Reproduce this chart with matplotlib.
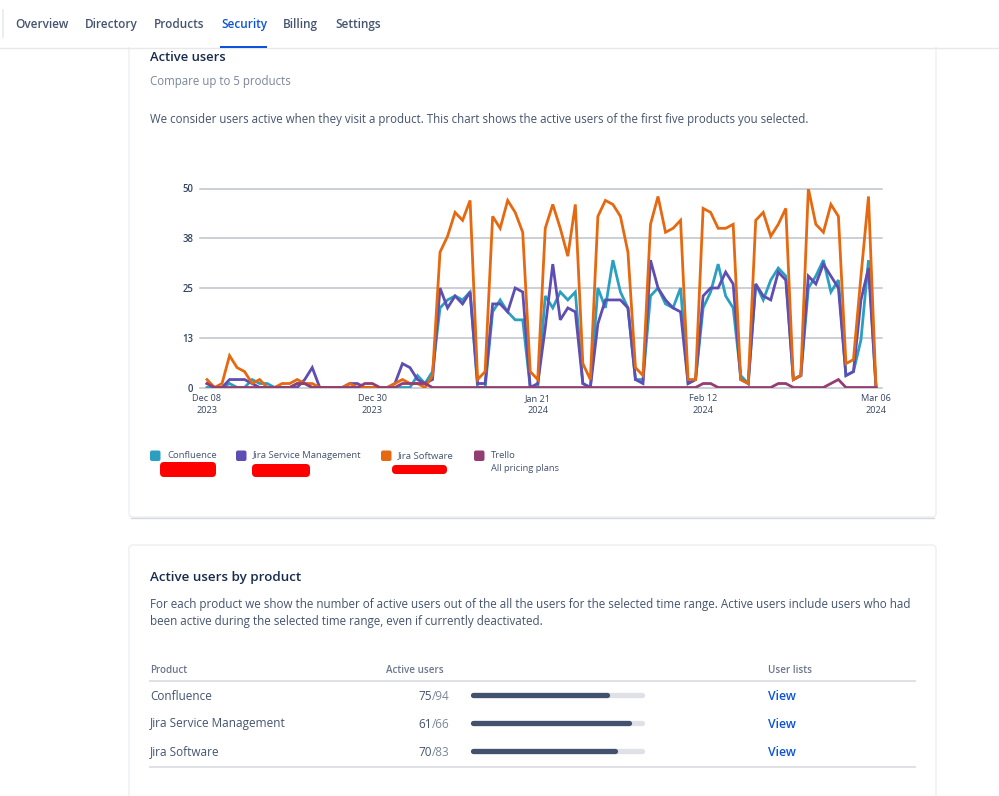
import numpy as np
import matplotlib.pyplot as plt
from matplotlib.patches import FancyBboxPatch, Rectangle

plt.rcParams["font.family"] = ["Open Sans", "DejaVu Sans"]

nav_items = ["Overview", "Directory", "Products", "Security", "Billing", "Settings"]
nav_x = [15, 85, 154, 221, 283, 335]

y_ticks = [0, 12.5, 25, 37.5, 50]
y_tick_labels = ["0", "13", "25", "38", "50"]
x_tick_days = [0, 22, 44, 66, 89]
x_tick_labels = ["Dec 08\n2023", "Dec 30\n2023", "Jan 21\n2024", "Feb 12\n2024", "Mar 06\n2024"]

confluence = [0, 0, 0, 1, 0, 0, 2, 1, 1, 0, 0, 0, 1, 1, 0, 0, 0, 0, 0, 0, 0, 0, 0, 0, 0, 0, 0, 0, 3, 1,
              4, 20, 22, 23, 22, 24, 0, 0, 19, 22, 19, 17, 17, 0, 0, 23, 20, 24, 22, 24, 1, 0, 25, 20, 32, 24, 20, 2, 2, 23,
              25, 21, 20, 25, 1, 2, 20, 24, 31, 23, 20, 3, 1, 26, 22, 27, 30, 28, 2, 3, 25, 28, 32, 24, 27, 3, 4, 12, 32, 0]
jira_sm = [1, 0, 0, 2, 2, 2, 1, 0, 0, 0, 0, 0, 0, 2, 5, 0, 0, 0, 0, 1, 1, 0, 0, 0, 0, 1, 6, 5, 2, 1,
           2, 25, 20, 23, 21, 24, 1, 1, 21, 21, 19, 25, 24, 0, 1, 15, 31, 17, 20, 19, 1, 0, 16, 22, 22, 22, 20, 2, 1, 32,
           25, 22, 20, 19, 1, 2, 23, 25, 25, 29, 26, 2, 1, 26, 23, 22, 29, 27, 2, 3, 28, 26, 31, 28, 25, 3, 4, 22, 30, 0]
jira_sw = [2, 0, 1, 8, 5, 4, 1, 2, 0, 0, 1, 1, 2, 1, 1, 0, 0, 0, 0, 1, 0, 0, 0, 0, 0, 1, 2, 1, 1, 0,
           3, 34, 38, 44, 42, 47, 2, 4, 43, 40, 47, 44, 39, 4, 2, 40, 46, 40, 33, 46, 6, 2, 43, 47, 46, 43, 34, 5, 3, 41,
           48, 39, 40, 42, 2, 2, 45, 44, 40, 40, 41, 2, 1, 42, 44, 38, 41, 45, 2, 3, 50, 41, 39, 46, 43, 6, 7, 28, 48, 0]
trello = [1, 0, 0, 0, 0, 0, 0, 0, 0, 0, 0, 0, 1, 1, 0, 0, 0, 0, 0, 0, 0, 1, 1, 0, 0, 0, 1, 1, 1, 1,
          0, 0, 0, 0, 0, 0, 0, 0, 0, 0, 0, 0, 0, 0, 0, 0, 0, 0, 0, 0, 0, 0, 0, 0, 0, 0, 0, 0, 0, 0,
          0, 0, 0, 0, 0, 0, 1, 1, 0, 0, 0, 0, 0, 0, 0, 0, 1, 1, 0, 0, 0, 0, 0, 1, 2, 0, 0, 0, 0, 0]

series_names = ["Confluence", "Jira Service Management", "Jira Software", "Trello"]
series_colors = ["#2a9fc0", "#5e4db2", "#e56910", "#943d73"]
legend_x = [150, 236, 381, 474]

table_products = ["Confluence", "Jira Service Management", "Jira Software"]
active_users = [75, 61, 70]
total_users = [94, 66, 83]

W, H = 999, 796
fig = plt.figure(figsize=(W / 100, H / 100), dpi=100, facecolor="white")

# page layer in pixel coordinates
page = fig.add_axes([0, 0, 1, 1])
page.set_xlim(0, W)
page.set_ylim(H, 0)
page.axis("off")

DARK = "#172b4d"
MID = "#44546f"
GREY = "#7a869a"
TICK = "#344563"


# y is the text baseline, so words with and without descenders line up
def txt(x, y, s, size=8.5, color=DARK, weight="normal", ha="left", zorder=4):
    page.text(x, y, s, fontsize=size, color=color, fontweight=weight, ha=ha, va="baseline", zorder=zorder)


# cards
for top, bottom in [(20, 517), (545, 830)]:
    page.add_patch(FancyBboxPatch((129, top), 807, bottom - top, boxstyle="round,pad=0,rounding_size=4",
                                  fc="white", ec="#eceef1", lw=1))
page.plot([131, 934], [517.5, 517.5], color="#d5d8dd", lw=1)

# nav bar
page.add_patch(Rectangle((0, 0), W, 47, fc="white", ec="none", zorder=3))
page.plot([0, W], [47.5, 47.5], color="#e6e8ec", lw=1, zorder=3)
page.plot([3, 3], [10, 37], color="#e8eaed", lw=1.2, zorder=3)
for name, x in zip(nav_items, nav_x):
    txt(x, 28, name, weight="semibold", color="#0c53da" if name == "Security" else MID)
page.add_patch(Rectangle((220, 45.5), 47, 2.5, fc="#0c53da", ec="none", zorder=4))

txt(150, 61, "Active users", size=9.4, weight="semibold")
txt(150, 85, "Compare up to 5 products", size=8.3, color=GREY)
txt(150, 123, "We consider users active when they visit a product. This chart shows the active users of "
              "the first five products you selected.", size=8.3, color=MID)

# line chart
left, right, top, bottom = 200, 882, 188.5, 387.5
ax = fig.add_axes([left / W, 1 - bottom / H, (right - left) / W, (bottom - top) / H])
px_per_day = (876 - 207) / 89
ax.set_xlim((left - 207) / px_per_day, (right - 207) / px_per_day)
ax.set_ylim(0, 50)
ax.patch.set_alpha(0)
for s in ax.spines.values():
    s.set_visible(False)
ax.set_yticks(y_ticks)
ax.set_yticklabels(y_tick_labels, fontsize=6.9, color=TICK, fontweight="semibold")
ax.set_xticks(x_tick_days)
ax.set_xticklabels(x_tick_labels, fontsize=6.6, color=TICK, linespacing=1.45)
ax.tick_params(length=0, axis="both")
ax.tick_params(axis="x", pad=4.5)
ax.tick_params(axis="y", pad=5)
ax.grid(axis="y", color="#bfc3c9", lw=1.1)
ax.set_axisbelow(True)
for line in ax.get_ygridlines():
    line.set_clip_on(False)

days = np.arange(len(jira_sw))
for values, color in zip([confluence, jira_sm, jira_sw, trello], series_colors):
    ax.plot(days, values, color=color, lw=2, solid_joinstyle="miter")

# legend
for name, color, x in zip(series_names, series_colors, legend_x):
    page.add_patch(FancyBboxPatch((x, 450.5), 10.5, 10.5, boxstyle="round,pad=0,rounding_size=2",
                                  fc=color, ec="none"))
    txt(x + 17, 458, name, size=6.8, color=MID)
txt(491, 471, "All pricing plans", size=6.75, color=MID)

# redacted blobs
for x, y, w, h in [(160, 462, 56, 15), (252, 464, 58, 13), (392, 465, 55, 9)]:
    page.add_patch(FancyBboxPatch((x, y), w, h, boxstyle="round,pad=0,rounding_size=4",
                                  fc="#fe0000", ec="none"))

# table
txt(150, 581, "Active users by product", size=9.6, weight="semibold")
txt(150, 608, "For each product we show the number of active users out of the all the users for the "
              "selected time range. Active users include users who had", size=8.35, color=MID)
txt(150, 625, "been active during the selected time range, even if currently deactivated.", size=8.35, color=MID)

txt(150, 673, "Product", size=7.1, color="#6b778c", weight="semibold")
txt(386, 673, "Active users", size=7.1, color="#6b778c", weight="semibold")
txt(768, 673, "User lists", size=7.1, color="#6b778c", weight="semibold")
page.plot([150, 915], [680.5, 680.5], color="#dfe1e6", lw=1.4)
page.plot([150, 915], [766.5, 766.5], color="#dfe1e6", lw=1.4)

row_y = [695, 723, 751]
for name, act, tot, y in zip(table_products, active_users, total_users, row_y):
    txt(150, y + 4.5, name, color=MID)
    txt(432, y + 4.5, str(act), color=MID, ha="right")
    txt(432, y + 4.5, f"/{tot}", color=GREY)
    txt(768, y + 4.5, "View", size=8.8, color="#0c53da", weight="semibold")

# progress bars, x runs from 0 to 1 across the track
bars = fig.add_axes([470 / W, 1 - 766.5 / H, 175 / W, (766.5 - 680.5) / H])
bars.set_xlim(0, 1)
bars.set_ylim(766.5, 680.5)
bars.axis("off")
ratios = np.array(active_users) / np.array(total_users)
bars.hlines(row_y, 0.015, 0.985, color="#dfe1e6", lw=3.8, capstyle="round")
bars.hlines(row_y, 0.015, ratios - 0.015, color="#42526e", lw=3.8, capstyle="round")

fig.savefig("out.png", dpi=100)
